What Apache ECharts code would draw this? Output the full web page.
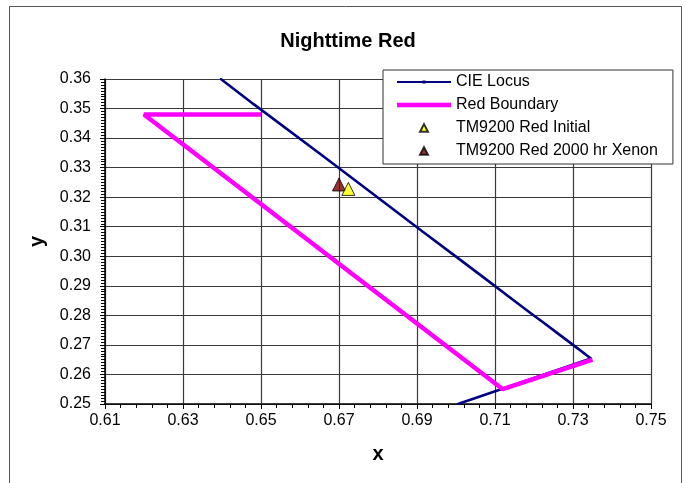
<!DOCTYPE html>
<html>
<head>
<meta charset="utf-8">
<script src="https://cdn.jsdelivr.net/npm/echarts@6/dist/echarts.min.js"></script>
<style>
  html, body { margin: 0; padding: 0; background: #fff; }
  #chart { width: 686px; height: 483px; }
</style>
</head>
<body>
<div id="chart"></div>
<script>
// CIE 1931 spectral locus near the red end, then the purple line toward the bottom edge
const cieLocus = [
  [0.6397, 0.3600], [0.6482, 0.3514], [0.6658, 0.3340], [0.6801, 0.3197],
  [0.6915, 0.3083], [0.7006, 0.2993], [0.7079, 0.2920], [0.7140, 0.2859],
  [0.7190, 0.2809], [0.7230, 0.2770], [0.7260, 0.2740], [0.7283, 0.2717],
  [0.7300, 0.2700], [0.7311, 0.2689], [0.7320, 0.2680], [0.7327, 0.2673],
  [0.7334, 0.2666], [0.7340, 0.2660], [0.7344, 0.2656], [0.7346, 0.2654],
  [0.7347, 0.2653], [0.7005, 0.2500]
];

// Red signal chromaticity boundary
const redBoundary = [
  [0.650, 0.348], [0.620, 0.348], [0.712, 0.255], [0.735, 0.265]
];

// Measured chromaticities
const tmInitial = [[0.6724, 0.3228]];
const tmXenon = [[0.6700, 0.3243]];

const seriesNames = ['CIE Locus', 'Red Boundary', 'TM9200 Red Initial', 'TM9200 Red 2000 hr Xenon'];

const FONT = '"Liberation Sans", Arial, sans-serif';

// Legend icons; the leading moveTo points fix the icon's bounding box so the
// visible shape keeps its size inside the 54x8 legend slot
const locusIcon = 'path://M0,0 M54,8 M0,3 L54,3 L54,5 L0,5 Z M25.5,2.5 L28.5,2.5 L28.5,5.5 L25.5,5.5 Z';
const boundaryIcon = 'path://M0,0 M54,8 M0,1.8 L54,1.8 L54,6.2 L0,6.2 Z';
const smallTriangle = 'path://M0,0 M10,10 M5,0.2 L10,9.8 L0,9.8 Z';

const chart = echarts.init(document.getElementById('chart'), null, { renderer: 'canvas' });

chart.setOption({
  backgroundColor: '#fff',
  animation: false,
  title: {
    text: 'Nighttime Red',
    left: 348,
    top: 31,
    padding: 0,
    textAlign: 'center',
    textStyle: { fontFamily: FONT, fontSize: 20, fontWeight: 'bold', color: '#000' }
  },
  graphic: [{
    type: 'rect',
    shape: { x: 9.5, y: 6.5, width: 672, height: 520 },
    style: { fill: 'none', stroke: '#555', lineWidth: 1 },
    silent: true,
    z: -10
  }],
  legend: {
    orient: 'vertical',
    left: 383,
    top: 70,
    padding: [4, 15, 5, 14],
    itemWidth: 54,
    itemHeight: 8,
    itemGap: 7,
    backgroundColor: '#fff',
    borderColor: '#333',
    borderWidth: 1,
    borderRadius: 0,
    textStyle: { fontFamily: FONT, fontSize: 16, color: '#000', lineHeight: 16 },
    data: [
      { name: seriesNames[0], icon: locusIcon },
      { name: seriesNames[1], icon: boundaryIcon },
      { name: seriesNames[2], icon: smallTriangle },
      { name: seriesNames[3], icon: smallTriangle }
    ],
    z: 10
  },
  grid: { left: 105, right: 35, top: 79, bottom: 79, containLabel: false },
  xAxis: {
    type: 'value',
    min: 0.61,
    max: 0.75,
    interval: 0.02,
    name: 'x',
    nameLocation: 'middle',
    nameGap: 40,
    nameTextStyle: { fontFamily: FONT, fontSize: 20, fontWeight: 'bold', color: '#000' },
    axisLine: { show: true, onZero: false, lineStyle: { color: '#000', width: 1.5 } },
    axisTick: { show: true, length: 5, lineStyle: { color: '#000', width: 1 } },
    minorTick: { show: true, splitNumber: 5, length: 4, lineStyle: { color: '#000', width: 1 } },
    axisLabel: {
      margin: 9,
      fontFamily: FONT, fontSize: 16, color: '#000',
      formatter: v => v.toFixed(2)
    },
    splitLine: { show: true, lineStyle: { color: '#3a3a3a', width: 1.2 } }
  },
  yAxis: {
    type: 'value',
    min: 0.25,
    max: 0.36,
    interval: 0.01,
    name: 'y',
    nameLocation: 'middle',
    nameRotate: 90,
    nameGap: 58,
    nameTextStyle: { fontFamily: FONT, fontSize: 20, fontWeight: 'bold', color: '#000' },
    axisLine: { show: true, onZero: false, lineStyle: { color: '#000', width: 1.5 } },
    axisTick: { show: true, length: 5, lineStyle: { color: '#000', width: 1 } },
    minorTick: { show: true, splitNumber: 10, length: 4, lineStyle: { color: '#000', width: 1 } },
    axisLabel: {
      margin: 14,
      fontFamily: FONT, fontSize: 16, color: '#000',
      formatter: v => v.toFixed(2)
    },
    splitLine: { show: true, lineStyle: { color: '#3a3a3a', width: 1.2 } }
  },
  series: [
    {
      name: seriesNames[0],
      type: 'line',
      data: cieLocus,
      symbol: 'circle',
      symbolSize: 2,
      showSymbol: true,
      clip: true,
      lineStyle: { color: '#000080', width: 2.6 },
      itemStyle: { color: '#000080' },
      z: 2
    },
    {
      name: seriesNames[1],
      type: 'line',
      data: redBoundary,
      symbol: 'none',
      clip: true,
      lineStyle: { color: '#FF00FF', width: 4.5 },
      itemStyle: { color: '#FF00FF' },
      z: 3
    },
    {
      name: seriesNames[2],
      type: 'scatter',
      data: tmInitial,
      symbol: 'triangle',
      symbolSize: 13,
      itemStyle: { color: '#FFFF00', borderColor: '#000', borderWidth: 1 },
      z: 6
    },
    {
      name: seriesNames[3],
      type: 'scatter',
      data: tmXenon,
      symbol: 'triangle',
      symbolSize: 13,
      itemStyle: { color: '#800000', borderColor: '#000', borderWidth: 1 },
      z: 5
    }
  ]
});
</script>
</body>
</html>
